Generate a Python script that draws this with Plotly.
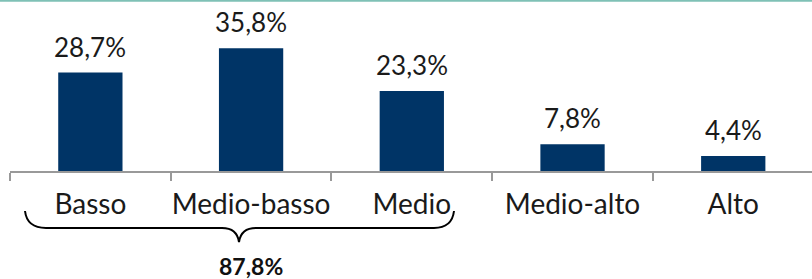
import plotly.graph_objects as go

categories = ["Basso", "Medio-basso", "Medio", "Medio-alto", "Alto"]
values = [28.7, 35.8, 23.3, 7.8, 4.4]
value_labels = ["28,7%", "35,8%", "23,3%", "7,8%", "4,4%"]
group_label = "87,8%"

FONT = "Lato, 'Open Sans', sans-serif"
TXT = "#1a1a1a"

# plot area geometry (pixels)
W, H = 812, 279
L, T, B = 10, 20, 108
PW = W - L
PH = H - T - B

def px(x):
    return (x - L) / PW

def py(y):
    return (H - B - y) / PH

fig = go.Figure(go.Bar(
    x=categories, y=values,
    marker=dict(color="#003466", line=dict(width=0)),
    width=0.4,
))

brace = (f"M {px(25)},{py(211)} Q {px(27)},{py(228)} {px(46)},{py(228)} "
         f"L {px(222)},{py(228)} Q {px(237)},{py(228)} {px(239)},{py(242)} "
         f"Q {px(241)},{py(228)} {px(256)},{py(228)} "
         f"L {px(434)},{py(228)} Q {px(452)},{py(228)} {px(454)},{py(211)}")

annotations = [
    dict(x=c, y=v, text=t, xref="x", yref="y", showarrow=False,
         xanchor="center", yanchor="bottom", yshift=8,
         font=dict(size=26, color=TXT, family=FONT))
    for c, v, t in zip(categories, values, value_labels)
]
annotations.append(
    dict(text=f"<b>{group_label}</b>", xref="paper", yref="paper",
         x=px(251), y=py(265.5), showarrow=False,
         xanchor="center", yanchor="middle", borderpad=0,
         font=dict(size=23, color="#111111", family=FONT)))

fig.update_layout(
    width=W, height=H,
    margin=dict(l=L, r=0, t=T, b=B, autoexpand=False),
    paper_bgcolor="white", plot_bgcolor="white",
    showlegend=False,
    xaxis=dict(
        type="category", range=[-0.5, 4.49], automargin=False,
        showline=True, linecolor="#999999", linewidth=1.5,
        ticks="outside", tickson="boundaries", ticklen=8,
        tickcolor="#999999", tickwidth=1.5, tickangle=0,
        ticklabelstandoff=8,
        tickfont=dict(size=28, color=TXT, family=FONT),
        showgrid=False, zeroline=False,
    ),
    yaxis=dict(range=[0, 44], visible=False, showgrid=False, zeroline=False,
               automargin=False),
    shapes=[
        dict(type="line", xref="paper", yref="paper",
             x0=px(0), x1=px(812), y0=py(0.8), y1=py(0.8),
             line=dict(color="#7FC1B6", width=2)),
        dict(type="path", xref="paper", yref="paper", path=brace,
             line=dict(color="black", width=2)),
    ],
    annotations=annotations,
)

fig.write_html("out.html", config={"displayModeBar": False},
               post_script="document.body.style.margin='0';document.body.style.overflow='hidden';")
